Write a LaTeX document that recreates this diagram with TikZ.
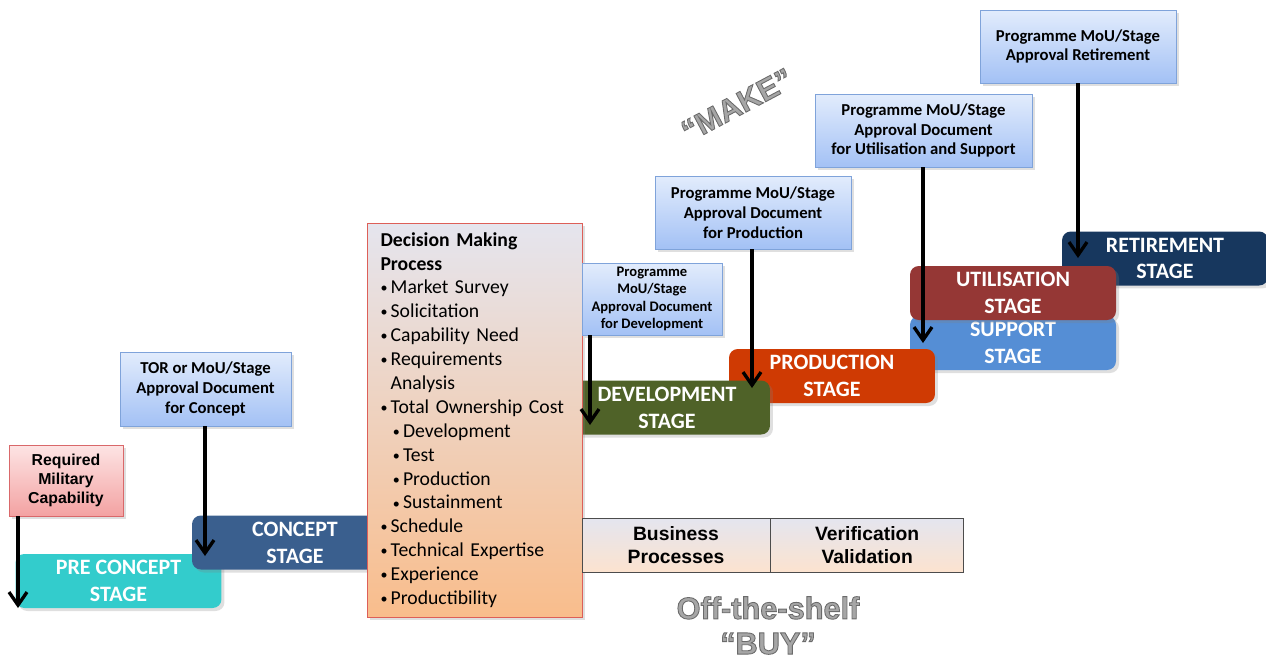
\documentclass[tikz,border=0pt]{standalone}
\usepackage{fontspec}
\setmainfont{Carlito}
\newfontfamily\arialfont{Liberation Sans}
\usetikzlibrary{positioning, arrows.meta, shadows}

\definecolor{precol}{HTML}{33CCCC}
\definecolor{conceptcol}{HTML}{3A5F8E}
\definecolor{devcol}{HTML}{4F6228}
\definecolor{prodcol}{HTML}{CF3A03}
\definecolor{supportcol}{HTML}{558ED5}
\definecolor{utilcol}{HTML}{953735}
\definecolor{retirecol}{HTML}{17375E}
\definecolor{doctop}{HTML}{E2ECFC}
\definecolor{docbot}{HTML}{A3C1F5}
\definecolor{docedge}{HTML}{7FA3DA}
\definecolor{reqtop}{HTML}{FDE4E4}
\definecolor{reqbot}{HTML}{F3A2A2}
\definecolor{reqedge}{HTML}{D9686A}
\definecolor{dmptop}{HTML}{E5E5EE}
\definecolor{dmpbot}{HTML}{F9BD8C}
\definecolor{dmpedge}{HTML}{DD5F58}
\definecolor{biztop}{HTML}{E4E5EF}
\definecolor{bizbot}{HTML}{FCE3CF}

\newcommand{\dmpitem}{\makebox[5.8pt][l]{\raisebox{.1ex}{\footnotesize\textbullet}}}
\newcommand{\dmpsub}{\hspace{7pt}\dmpitem}
\newcommand{\outlined}[1]{\special{pdf:literal direct 2 Tr 0.5 w 0.42 G}#1\special{pdf:literal direct 0 Tr}}

\tikzset{
  softshadow/.style={drop shadow={opacity=.25, shadow xshift=.06cm, shadow yshift=-.06cm}},
  stage/.style={rounded corners=5pt, text=white, align=center, inner sep=0pt,
    minimum width=4.12cm, minimum height=1.08cm, softshadow,
    font=\fontsize{12.5}{15.3}\selectfont\bfseries},
  docbox/.style={draw=docedge, top color=doctop, bottom color=docbot, align=center,
    inner sep=0pt, softshadow, font=\fontsize{9.5}{11.3}\selectfont\bfseries},
  bizcell/.style={draw=black!70, top color=biztop, bottom color=bizbot, align=center,
    inner sep=0pt, minimum height=1.08cm, font=\arialfont\fontsize{11}{13}\selectfont\bfseries},
  tagtext/.style={text=black!35, align=center, font=\arialfont\fontsize{17.5}{20}\selectfont\bfseries},
  docarrow/.style={line width=1.9pt, -{Straight Barb[length=2.6mm, width=3.6mm]}}
}

\begin{document}
\begin{tikzpicture}[x=0.02cm, y=-0.02cm]
  \useasboundingbox (0,0) rectangle (1266,659);

  \node[stage, fill=retirecol]  (retire)  at (1165,258.5) {RETIREMENT\\STAGE};
  \node[stage, fill=supportcol] (support) at (1013,343)   {SUPPORT\\STAGE};
  \node[stage, fill=utilcol]    (util)    at (1013,293)   {UTILISATION\\STAGE};
  \node[stage, fill=prodcol]    (prod)    at (832,376)    {PRODUCTION\\STAGE};
  \node[stage, fill=devcol]     (dev)     at (667,407.5)  {DEVELOPMENT\\STAGE};
  \node[stage, fill=precol]     (pre)     at (118.5,581)  {PRE CONCEPT\\STAGE};
  \node[stage, fill=conceptcol] (concept) at (295,542.5)  {CONCEPT\\STAGE};

  \node[draw=dmpedge, top color=dmptop, bottom color=dmpbot, softshadow,
        text width=3.76cm, inner xsep=0.27cm, inner ysep=0pt, minimum height=7.88cm,
        align=left, font=\fontsize{11.2}{13.6}\selectfont] (dmp) at (474.5,420)
    {\textbf{Decision Making}\\
     \textbf{Process}\\
     \dmpitem Market Survey\\
     \dmpitem Solicitation\\
     \dmpitem Capability Need\\
     \dmpitem Requirements\\
     \hphantom{\dmpitem}Analysis\\
     \dmpitem Total Ownership Cost\\
     \dmpsub Development\\
     \dmpsub Test\\
     \dmpsub Production\\
     \dmpsub Sustainment\\
     \dmpitem Schedule\\
     \dmpitem Technical Expertise\\
     \dmpitem Experience\\
     \dmpitem Productibility};

  \node[docbox, draw=reqedge, top color=reqtop, bottom color=reqbot,
        minimum width=2.28cm, minimum height=1.42cm,
        font=\arialfont\fontsize{9}{11}\selectfont\bfseries] (req) at (66,480.5)
    {Required\\Military\\Capability};
  \node[docbox, minimum width=3.42cm, minimum height=1.48cm] (tordoc) at (205.5,389)
    {TOR or MoU/Stage\\Approval Document\\for Concept};
  \node[docbox, minimum width=2.8cm, minimum height=1.44cm,
        font=\fontsize{8.3}{9.9}\selectfont\bfseries] (devdoc) at (652,299)
    {Programme\\MoU/Stage\\Approval Document\\for Development};
  \node[docbox, minimum width=3.92cm, minimum height=1.46cm] (proddoc) at (753,212.5)
    {Programme MoU/Stage\\Approval Document\\for Production};
  \node[docbox, minimum width=4.34cm, minimum height=1.46cm] (utildoc) at (923.5,130.5)
    {Programme MoU/Stage\\Approval Document\\for Utilisation and Support};
  \node[docbox, minimum width=3.92cm, minimum height=1.46cm] (retdoc) at (1078,46.5)
    {Programme MoU/Stage\\Approval Retirement};

  \coordinate (reqtip)  at (18,608);
  \coordinate (tortip)  at (205,556);
  \coordinate (devtip)  at (590,425);
  \coordinate (prodtip) at (752,388);
  \coordinate (utiltip) at (923,343);
  \coordinate (rettip)  at (1078,258);

  \draw[docarrow] (req.south -| reqtip)      -- (reqtip);
  \draw[docarrow] (tordoc.south -| tortip)   -- (tortip);
  \draw[docarrow] (devdoc.south -| devtip)   -- (devtip);
  \draw[docarrow] (proddoc.south -| prodtip) -- (prodtip);
  \draw[docarrow] (utildoc.south -| utiltip) -- (utiltip);
  \draw[docarrow] (retdoc.south -| rettip)   -- (rettip);

  \node[bizcell, minimum width=3.76cm] (biz) at (676,545) {Business\\Processes};
  \node[bizcell, minimum width=3.86cm, right=0pt of biz] (verval) {Verification\\Validation};

  \node[tagtext, rotate=28] (make) at (737,105) {\outlined{“MAKE”}};
  \node[tagtext] (buy) at (768,625.5) {\outlined{Off-the-shelf}\\\outlined{“BUY”}};
\end{tikzpicture}
\end{document}
